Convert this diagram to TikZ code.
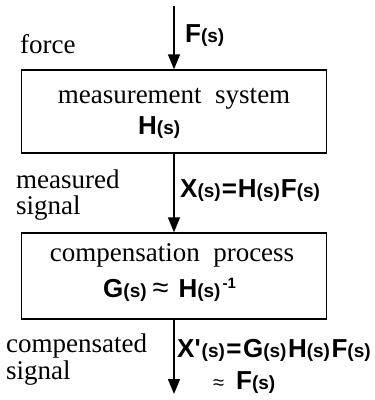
\documentclass[tikz,border=0pt]{standalone}
\usepackage{fontspec}
\setmainfont{Liberation Serif}
\newfontfamily\hvfont{Liberation Sans}
\usetikzlibrary{arrows.meta}
\newcommand\argS{{\fontsize{19pt}{19pt}\selectfont(s)}}
\newcommand\supinv{\raisebox{9pt}{\fontsize{15pt}{15pt}\selectfont -1}}
\tikzset{
  blockbox/.style={draw, line width=1.4pt, minimum width=305pt, inner sep=0pt},
  lbl/.style={inner sep=0pt, anchor=base west, font=\fontsize{27pt}{30pt}\selectfont},
  inlbl/.style={inner sep=0pt, anchor=base, font=\fontsize{27pt}{30pt}\selectfont},
  fml/.style={inner sep=0pt, anchor=base west, font=\hvfont\bfseries\fontsize{26pt}{30pt}\selectfont},
  flow/.style={line width=1.4pt, -{Triangle[length=15pt,width=12pt]}}
}
\begin{document}
\begin{tikzpicture}[x=1pt,y=-1pt]
\useasboundingbox (0,0) rectangle (375,400);
\node[blockbox, minimum height=83pt] (b1) at (174,111.5) {};
\node[blockbox, minimum height=86pt] (b2) at (174,276) {};
\coordinate (top) at (174,6);
\coordinate (bot) at (174,394);
\draw[flow] (top) -- (b1.north);
\draw[flow] (b1.south) -- (b2.north);
\draw[flow] (b2.south) -- (bot);
\node[inlbl] (t1) at (174,103) {measurement\ \ system};
\node[fml] (h1) at (138,134) {H\argS};
\node[inlbl] (t2) at (172,261) {compensation\ \ process};
\node[fml] (g2) at (103,297) {G\argS\hspace{6pt}{\mdseries\fontsize{29pt}{29pt}\selectfont ≈}\hspace{10pt}H\argS\hspace{2pt}\supinv};
\node[lbl] (force) at (20,53) {force};
\node[fml] (fs) at (185,42) {F\argS};
\node[lbl] (meas) at (16,188) {measured};
\node[lbl] (sig1) at (16,214) {signal};
\node[fml] (xs) at (180,197) {X\argS\hspace{1pt}=\hspace{1pt}H\argS\hspace{1pt}F\argS};
\node[lbl] (comp) at (6,352) {compensated};
\node[lbl] (sig2) at (6,379) {signal};
\node[fml] (xps) at (177,357) {X'\hspace{1pt}\argS\hspace{1.5pt}=\hspace{1.5pt}G\argS\hspace{1.5pt}H\argS\hspace{1.5pt}F\argS};
\node[fml] (apf) at (213,389) {{\mdseries\fontsize{20pt}{20pt}\selectfont ≈}\hspace{12pt}F\argS};
\end{tikzpicture}
\end{document}
